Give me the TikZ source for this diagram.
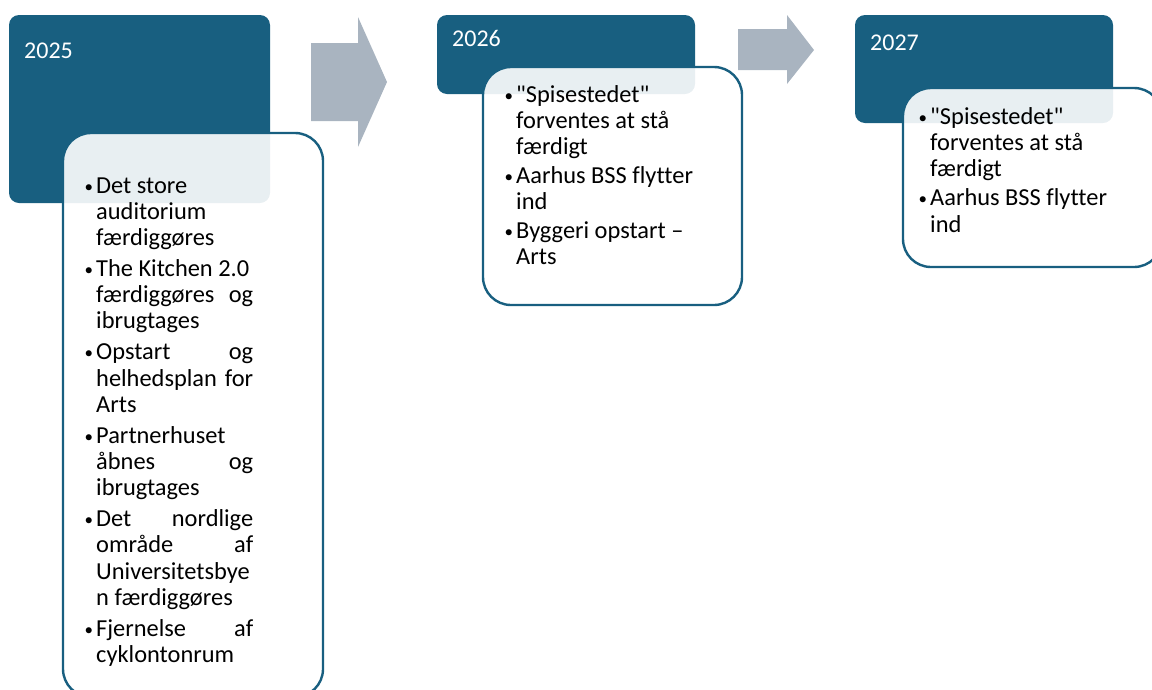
\documentclass[tikz,border=0pt]{standalone}
\usepackage{fontspec}
\setmainfont{Carlito}[Ligatures={TeXOff,CommonOff}]
\definecolor{dk}{RGB}{24,95,128}
\definecolor{arr}{RGB}{169,180,192}
\newcommand{\bl}{\leavevmode\llap{\raisebox{1pt}{\fontsize{17}{17}\selectfont •}\hspace{3pt}}}
\newcommand{\jl}[2]{\hbox to 157pt{#1\hfill #2}}
\tikzset{
  yearbox/.style={fill=dk, draw=none, rounded corners=10pt},
  itembox/.style={fill=white, fill opacity=0.9, draw=dk, line width=2.4pt, rounded corners=28pt},
  yearlabel/.style={anchor=base west, inner sep=0pt, text=white, font=\fontsize{24}{26}\selectfont},
  itemtext/.style={anchor=base west, inner sep=0pt, text=black},
  arrowshape/.style={fill=arr, draw=none}
}
\begin{document}
\begin{tikzpicture}[x=1pt,y=-1pt]
\useasboundingbox (0,0) rectangle (1152,689);
\clip (0,0) rectangle (1152,689);
% arrows
\fill[arrowshape] (311,43) -- (358,43) -- (358,17) -- (387,82) -- (358,147) -- (358,121) -- (311,121) -- cycle;
\fill[arrowshape] (738,29) -- (787,29) -- (787,15) -- (814,50) -- (787,84) -- (787,70) -- (738,70) -- cycle;
% boxes
\path[yearbox] (9,15) rectangle (270,203);
\path[itembox] (63,133) rectangle (323,697);
\path[yearbox] (437,15) rectangle (695,94);
\path[itembox] (483,67) rectangle (742,305);
\path[yearbox] (855,15) rectangle (1113,123);
\path[itembox] (903,88) rectangle (1162,267);
% labels
\node[yearlabel] (y1) at (24,58) {2025};
\node[yearlabel] (y2) at (452,46) {2026};
\node[yearlabel] (y3) at (870,50) {2027};
% texts
\node[itemtext] (t1) at (96,193) {\parbox[t]{240pt}{\fontsize{24.4}{26.2}\selectfont\parskip=4.8pt\parindent=0pt
\bl Det store\\
auditorium\\
færdiggøres\par
\bl The Kitchen 2.0\\
\jl{færdiggøres}{og}\\
ibrugtages\par
\bl\jl{Opstart}{og}\\
\jl{helhedsplan}{for}\\
Arts\par
\bl Partnerhuset\\
\jl{åbnes}{og}\\
ibrugtages\par
\bl\jl{Det}{nordlige}\\
\jl{område}{af}\\
Universitetsbye\\
n færdiggøres\par
\bl\jl{Fjernelse}{af}\\
cyklontonrum\par}};
\node[itemtext] (t2) at (516,102) {\parbox[t]{240pt}{\fontsize{24.4}{26.2}\selectfont\parskip=2.8pt\parindent=0pt
\bl "Spisestedet"\\
forventes at stå\\
færdigt\par
\bl Aarhus BSS flytter\\
ind\par
\bl Byggeri opstart –\\
Arts\par}};
\node[itemtext] (t3) at (930,124.5) {\parbox[t]{240pt}{\fontsize{24.4}{26.2}\selectfont\parskip=2.8pt\parindent=0pt
\bl "Spisestedet"\\
forventes at stå\\
færdigt\par
\bl Aarhus BSS flytter\\
ind\par}};
\end{tikzpicture}
\end{document}
